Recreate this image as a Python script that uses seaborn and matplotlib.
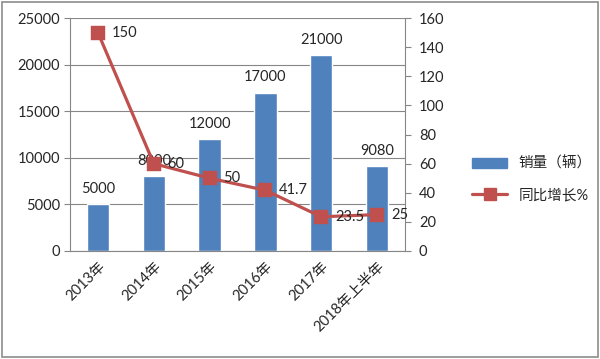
import numpy as np
import matplotlib
matplotlib.use("Agg")
import matplotlib.pyplot as plt
import seaborn as sns
from matplotlib.patches import Patch, Rectangle
from matplotlib.lines import Line2D

# data
years = ["2013年", "2014年", "2015年", "2016年", "2017年", "2018年上半年"]
sales = [5000, 8000, 12000, 17000, 21000, 9080]
growth = [150, 60, 50, 41.7, 23.5, 25]
growth_labels = ["150", "60", "50", "41.7", "23.5", "25"]

bar_color = "#4F81BD"
line_color = "#C0504D"
axis_gray = "#868686"

sns.set_style("white")
plt.rcParams["font.family"] = ["Lato", "Noto Sans CJK SC", "DejaVu Sans"]
plt.rcParams["font.size"] = 10.5

fig = plt.figure(figsize=(6, 3.59), dpi=100)
ax = fig.add_axes([70 / 600, 1 - 251 / 359, 335 / 600, 233 / 359])

sns.barplot(x=years, y=sales, color=bar_color, width=0.4, saturation=1, ax=ax)
ax.set_ylim(0, 25000)
ax.set_yticks(np.arange(0, 25001, 5000))
ax.yaxis.grid(True, color=axis_gray, linewidth=0.8)
ax.set_axisbelow(True)
for i, v in enumerate(sales):
    ax.annotate(str(v), (i, v), textcoords="offset points", xytext=(0, 6),
                ha="center", va="bottom", fontsize=10.5)

ax2 = ax.twinx()
sns.pointplot(x=years, y=growth, color=line_color, markers="s", linestyles="-",
              markersize=8, linewidth=2.3, ax=ax2)
ax2.set_ylim(0, 160)
ax2.set_yticks(np.arange(0, 161, 20))
for i, (v, lab) in enumerate(zip(growth, growth_labels)):
    ax2.annotate(lab, (i, v), textcoords="offset points", xytext=(10, 0),
                 ha="left", va="center", fontsize=10.5)

ax.set_xlim(-0.5, len(years) - 0.5)
ax.set_xlabel("")
ax.set_ylabel("")
ax2.set_ylabel("")

# ticks between categories
ax.set_xticks(np.arange(len(years)))
ax.set_xticklabels(years, rotation=45, ha="right", rotation_mode="anchor")
ax.set_xticks(np.arange(-0.5, len(years), 1), minor=True)
ax.tick_params(axis="x", which="major", length=0, pad=6)
ax.tick_params(axis="x", which="minor", length=5, color=axis_gray, direction="out")
ax.tick_params(axis="y", length=4, color=axis_gray, direction="out", pad=3)
ax2.tick_params(axis="y", length=4, color=axis_gray, direction="out", pad=6)

for a in (ax, ax2):
    for side, sp in a.spines.items():
        sp.set_color(axis_gray)
        sp.set_linewidth(0.8)
    a.spines["top"].set_visible(False)
ax.spines["right"].set_visible(False)
ax2.spines["left"].set_visible(False)
ax2.spines["bottom"].set_visible(False)

handles = [
    Patch(facecolor=bar_color, edgecolor=bar_color, label="销量（辆）"),
    Line2D([0], [0], color=line_color, linewidth=2.3, marker="s", markersize=8,
           label="同比增长%"),
]
fig.legend(handles=handles, loc="center left", bbox_to_anchor=(0.765, 0.5),
           frameon=False, fontsize=10.5, handlelength=2.4, labelspacing=1.2)

fig.add_artist(Rectangle((0.004, 0.006), 0.992, 0.988, transform=fig.transFigure,
                         fill=False, edgecolor="#8C8C8C", linewidth=1.2))

fig.savefig("out.png", dpi=100)
plt.close()
